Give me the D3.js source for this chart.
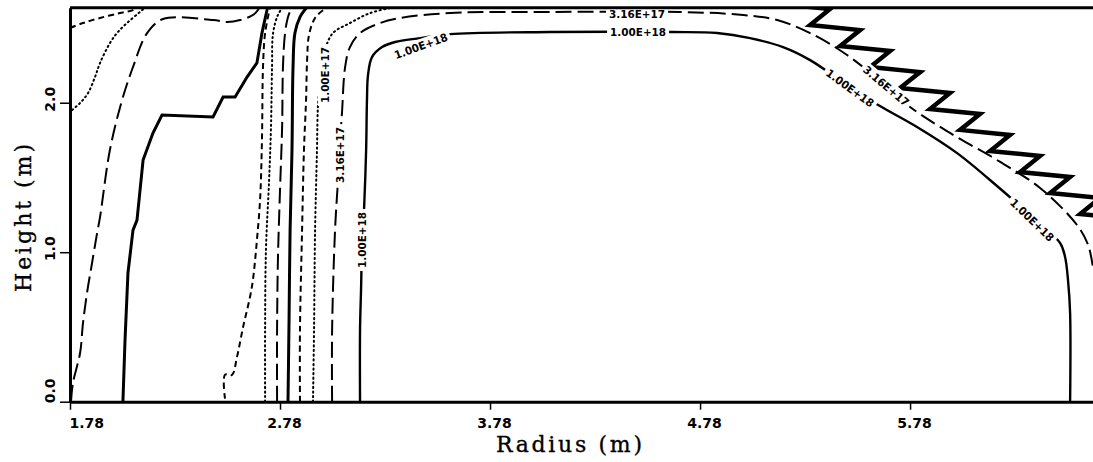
<!DOCTYPE html>
<html>
<head>
<meta charset="utf-8">
<script src="https://cdn.jsdelivr.net/npm/d3@7"></script>
<style>
  body { margin: 0; background: #fff; }
  svg { display: block; }
  text { fill: #000; }
  .tick text { font-family: "DejaVu Sans", sans-serif; font-weight: bold; font-size: 14px; }
  .title { font-family: "DejaVu Serif", serif; font-size: 22px; stroke: #000; stroke-width: 0.35px; }
  .clabel { font-family: "DejaVu Sans", sans-serif; font-weight: bold; font-size: 11px; }
</style>
</head>
<body>
<div id="chart-area"></div>
<script>

// axis ticks
const xTicks = [1.78, 2.78, 3.78, 4.78, 5.78];
const yTicks = [0.0, 1.0, 2.0];

// contour lines, [radius (m), height (m)]
const cornerShort = [[1.78,2.50],[1.842,2.533],[1.923,2.567],[2.018,2.600],[2.08,2.62],[2.10,2.64]];
const cornerDot = [[1.79,1.951],[1.828,1.998],[1.866,2.065],[1.899,2.172],[1.923,2.266],[1.970,2.399],[2.004,2.466],[2.051,2.533],[2.113,2.607],[2.14,2.64]];
const edgeLong = [[1.785,0.005],[1.794,0.125],[1.828,0.326],[1.842,0.527],[1.861,0.727],[1.885,0.928],[1.909,1.128],[1.923,1.235],[1.970,1.684],[2.028,2.018],[2.08,2.239],[2.147,2.466],[2.223,2.560],[2.461,2.553],[2.528,2.540],[2.590,2.553],[2.651,2.587],[2.675,2.620],[2.68,2.64]];
const stepSolid = [[2.032,0],[2.042,0.413],[2.056,0.861],[2.08,1.148],[2.099,1.215],[2.128,1.617],[2.175,1.797],[2.218,1.918],[2.461,1.905],[2.509,2.038],[2.566,2.038],[2.623,2.172],[2.670,2.266],[2.694,2.466],[2.718,2.620],[2.72,2.64]];
const wallShortA = [[2.518,0.02],[2.518,0.18],[2.551,0.179],[2.575,0.298],[2.604,0.499],[2.637,0.700],[2.651,0.814],[2.670,1.081],[2.685,1.349],[2.694,1.751],[2.699,2.239],[2.709,2.466],[2.733,2.64]];
const wallDotA = [[2.709,0],[2.709,0.480],[2.713,1.015],[2.728,1.483],[2.737,1.838],[2.742,2.239],[2.747,2.466],[2.770,2.587],[2.794,2.64]];
const wallLongA = [[2.766,0],[2.766,0.480],[2.770,0.948],[2.780,1.416],[2.790,1.838],[2.794,2.239],[2.804,2.466],[2.818,2.573],[2.837,2.64]];
const wallSolid = [[2.818,0],[2.823,0.547],[2.828,1.148],[2.837,1.684],[2.842,2.239],[2.851,2.466],[2.875,2.573],[2.909,2.64]];
const wallShortB = [[2.875,0],[2.875,0.480],[2.885,1.148],[2.894,1.684],[2.904,2.018],[2.909,2.285],[2.918,2.453],[2.947,2.567],[2.994,2.627],[3.02,2.64]];
const level1e17 = [[2.937,0],[2.942,0.480],[2.947,1.148],[2.956,1.684],[2.961,1.985],[2.975,2.185],[2.994,2.352],[3.032,2.466],[3.113,2.533],[3.209,2.600],[3.304,2.633]];
const level316e17 = [[3.028,0],[3.028,0.480],[3.042,1.148],[3.056,1.483],[3.066,1.751],[3.075,1.931],[3.090,2.239],[3.113,2.372],[3.161,2.466],[3.256,2.533],[3.351,2.567],[3.590,2.600],[4.066,2.607],[4.685,2.607],[4.985,2.587],[5.147,2.553],[5.304,2.466],[5.480,2.319],[5.666,2.112],[5.780,1.971],[5.970,1.798],[6.209,1.604],[6.399,1.430],[6.575,1.182],[6.628,1.048],[6.651,0.895]];
const level1e18 = [[3.161,0],[3.161,0.480],[3.166,0.761],[3.170,1.015],[3.180,1.282],[3.190,1.684],[3.194,2.018],[3.199,2.185],[3.218,2.305],[3.266,2.372],[3.328,2.406],[3.447,2.432],[3.590,2.459],[4.066,2.473],[4.647,2.473],[4.861,2.466],[5.018,2.432],[5.175,2.372],[5.304,2.285],[5.494,2.104],[5.628,1.985],[5.813,1.838],[6.004,1.663],[6.194,1.443],[6.351,1.249],[6.494,1.062],[6.518,0.968],[6.532,0.814],[6.542,0.593],[6.542,0]];
// noisy zig-zag band along the upper right
const sawBand = [[5.161,2.660],[5.399,2.627],[5.304,2.520],[5.542,2.486],[5.447,2.379],[5.685,2.346],[5.590,2.239],[5.828,2.205],[5.732,2.098],[5.970,2.065],[5.875,1.958],[6.113,1.925],[6.018,1.818],[6.256,1.784],[6.161,1.677],[6.399,1.644],[6.304,1.536],[6.542,1.503],[6.447,1.396],[6.685,1.363],[6.590,1.255],[6.828,1.222]];

// contour labels
const labelText = ["1.00E+17","3.16E+17","1.00E+18","1.00E+18","3.16E+17","1.00E+18","1.00E+18","3.16E+17","1.00E+18"];
const labelPos = [[2.994,2.185],[3.066,1.650],[3.170,1.082],[3.451,2.379],[4.480,2.593],[4.485,2.473],[5.494,2.098],[5.666,2.112],[6.361,1.215]];
const labelAngle = [-90,-90,-90,-20,0,0,36,40,44];

const dash = {solid: null, long: "16,6", short: "6,4", dot: "1.2,3.4"};
const contours = [
    {pts: cornerShort, kind: "short", w: 2},
    {pts: cornerDot, kind: "dot", w: 2},
    {pts: edgeLong, kind: "long", w: 2},
    {pts: stepSolid, kind: "solid", w: 3, step: true},
    {pts: wallShortA, kind: "short", w: 2},
    {pts: wallDotA, kind: "dot", w: 2},
    {pts: wallLongA, kind: "long", w: 2},
    {pts: wallSolid, kind: "solid", w: 3},
    {pts: wallShortB, kind: "short", w: 2},
    {pts: level1e17, kind: "dot", w: 2},
    {pts: level316e17, kind: "long", w: 2},
    {pts: level1e18, kind: "solid", w: 2.4}
];

let width = 1093, height = 462;

let svg = d3.select("#chart-area").append("svg")
    .attr("width", width)
    .attr("height", height);

let x = d3.scaleLinear().domain([1.78, 6.651]).range([70, 1093]);
let y = d3.scaleLinear().domain([0, 2.635]).range([401.7, 7.8]);

svg.append("defs").append("clipPath")
    .attr("id", "clip")
    .append("rect")
    .attr("x", x(1.78)).attr("y", y(2.635))
    .attr("width", x(6.651) - x(1.78))
    .attr("height", y(0) - y(2.635));

let plot = svg.append("g").attr("clip-path", "url(#clip)");

let smooth = d3.line().x(d => x(d[0])).y(d => y(d[1])).curve(d3.curveCatmullRom.alpha(0.5));
let straight = d3.line().x(d => x(d[0])).y(d => y(d[1]));

plot.selectAll(".contour")
    .data(contours)
    .enter().append("path")
    .attr("class", "contour")
    .attr("d", d => d.step ? straight(d.pts) : smooth(d.pts))
    .attr("fill", "none")
    .attr("stroke", "#000")
    .attr("stroke-width", d => d.w)
    .attr("stroke-linecap", d => d.kind === "dot" ? "round" : "butt")
    .attr("stroke-dasharray", d => dash[d.kind]);

plot.append("path")
    .attr("d", straight(sawBand))
    .attr("fill", "none")
    .attr("stroke", "#000")
    .attr("stroke-width", 4.5)
    .attr("stroke-linejoin", "miter")
    .attr("stroke-miterlimit", 12);

// labels sit on the lines with a white knock-out
let lab = plot.selectAll(".clab")
    .data(labelText)
    .enter().append("g")
    .attr("class", "clab")
    .attr("transform", (d, i) => "translate(" + x(labelPos[i][0]) + "," + y(labelPos[i][1]) + ") rotate(" + labelAngle[i] + ")");
lab.append("rect")
    .attr("x", -31).attr("y", -7).attr("width", 62).attr("height", 14)
    .attr("fill", "#fff");
lab.append("text")
    .attr("class", "clabel")
    .attr("text-anchor", "middle")
    .attr("dy", "0.36em")
    .attr("textLength", 56)
    .attr("lengthAdjust", "spacingAndGlyphs")
    .text(d => d);

// axes
let xAxis = svg.append("g")
    .attr("transform", "translate(0," + y(0) + ")")
    .call(d3.axisBottom(x).tickValues(xTicks).tickSize(8).tickSizeOuter(0).tickFormat(d3.format(".2f")));
xAxis.select(".domain").attr("stroke-width", 3);
xAxis.selectAll(".tick line").attr("stroke-width", 1.5);
xAxis.selectAll(".tick text")
    .attr("y", 26).attr("dy", null)
    .attr("x", (d, i) => i === 0 ? -1 : 4)
    .attr("text-anchor", (d, i) => i === 0 ? "start" : "middle");

let yAxis = svg.append("g")
    .attr("transform", "translate(" + x(1.78) + ",0)")
    .call(d3.axisLeft(y).tickValues(yTicks).tickSize(10).tickSizeOuter(0).tickFormat(d3.format(".1f")));
yAxis.select(".domain").attr("stroke-width", 3);
yAxis.selectAll(".tick line").attr("stroke-width", 1.5);
yAxis.selectAll(".tick text")
    .attr("x", null).attr("dy", null)
    .attr("transform", (d, i) => i === 0 ? "translate(-15,1) rotate(-90)" : "translate(-15,-4) rotate(-90)")
    .attr("text-anchor", (d, i) => i === 0 ? "start" : "middle");

// top frame
svg.append("line")
    .attr("x1", x(1.78)).attr("x2", x(6.651))
    .attr("y1", y(2.635)).attr("y2", y(2.635))
    .attr("stroke", "#000").attr("stroke-width", 3);

svg.append("text")
    .attr("class", "title")
    .attr("x", 569).attr("y", 452)
    .attr("text-anchor", "middle")
    .attr("textLength", 146)
    .text("Radius (m)");

svg.append("text")
    .attr("class", "title")
    .attr("transform", "translate(31,218) rotate(-90)")
    .attr("text-anchor", "middle")
    .attr("textLength", 148)
    .text("Height (m)");

</script>
</body>
</html>
